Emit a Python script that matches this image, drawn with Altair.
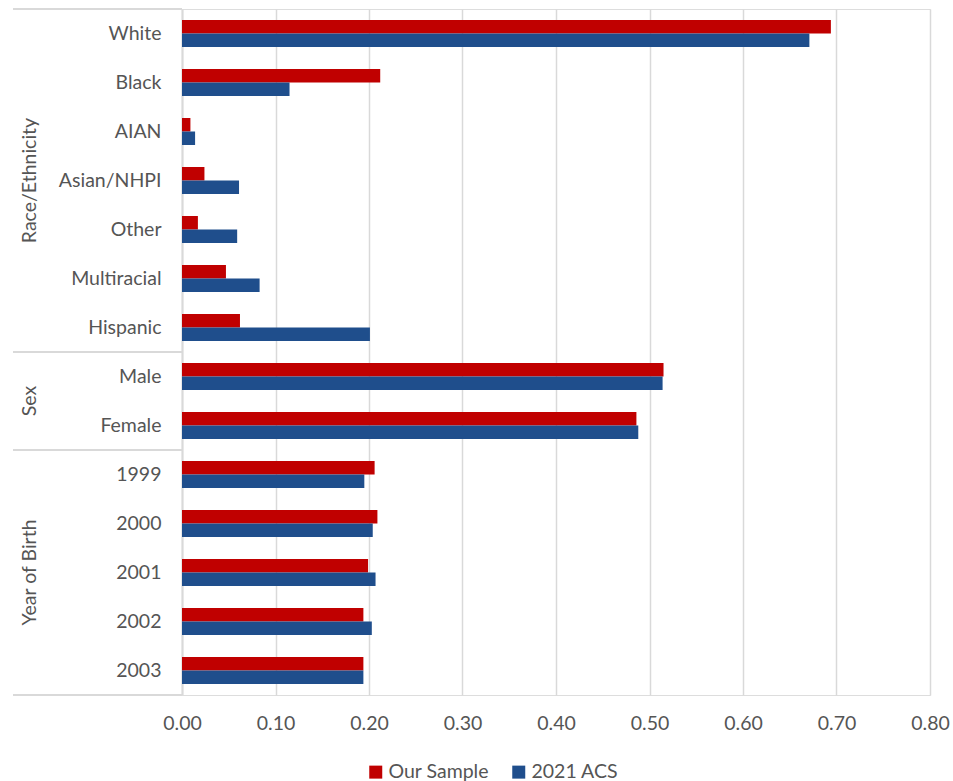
import altair as alt
import pandas as pd

categories = ["White", "Black", "AIAN", "Asian/NHPI", "Other", "Multiracial", "Hispanic",
              "Male", "Female", "1999", "2000", "2001", "2002", "2003"]
groups = ["Race/Ethnicity"] * 7 + ["Sex"] * 2 + ["Year of Birth"] * 5
our_sample = [0.694, 0.212, 0.009, 0.024, 0.017, 0.047, 0.062,
              0.515, 0.486, 0.206, 0.209, 0.199, 0.194, 0.194]
acs_2021 = [0.671, 0.115, 0.014, 0.061, 0.059, 0.083, 0.201,
            0.514, 0.488, 0.195, 0.204, 0.207, 0.203, 0.194]
series = ["Our Sample", "2021 ACS"]
colors = ["#C00000", "#1F4E8C"]
x_ticks = [0.0, 0.1, 0.2, 0.3, 0.4, 0.5, 0.6, 0.7, 0.8]

FONT = "Lato"
FS = 19.5
GRAY = "#555555"
LINE = "#D9D9D9"

rows = []
for c, g, a, b in zip(categories, groups, our_sample, acs_2021):
    rows.append({"category": c, "group": g, "series": series[0], "value": a})
    rows.append({"category": c, "group": g, "series": series[1], "value": b})
bars_df = pd.DataFrame(rows)

# group boundaries and group-label anchors
group_names = []
for g in groups:
    if g not in group_names:
        group_names.append(g)
bottoms = []
odd_anchor = []
even_anchor = []
for g in group_names:
    items = [c for c, gg in zip(categories, groups) if gg == g]
    bottoms.append({"category": items[-1]})
    n = len(items)
    if n % 2 == 1:
        odd_anchor.append({"category": items[n // 2], "group": g})
    else:
        even_anchor.append({"category": items[n // 2], "group": g})
top_df = pd.DataFrame([{"category": categories[0]}])
bottom_df = pd.DataFrame(bottoms)
odd_df = pd.DataFrame(odd_anchor)
even_df = pd.DataFrame(even_anchor)

y_axis = alt.Axis(title=None, ticks=False, domain=True, domainColor=LINE, domainWidth=2,
                  labelFont=FONT, labelFontSize=FS, labelColor=GRAY, labelPadding=21,
                  labelAlign="right", grid=False)
y_scale = alt.Scale(domain=categories, paddingInner=0, paddingOuter=0)


def ycat(bp=None):
    if bp is None:
        return alt.Y("category:N", sort=categories, scale=y_scale, axis=y_axis)
    return alt.Y("category:N", sort=categories, scale=y_scale, axis=y_axis, bandPosition=bp)


bars = alt.Chart(bars_df).mark_bar().encode(
    x=alt.X("value:Q", scale=alt.Scale(domain=[0, 0.8], nice=False),
            axis=alt.Axis(title=None, values=x_ticks, format=".2f", grid=True,
                          gridColor=LINE, gridWidth=1.5, domain=False, ticks=False,
                          labelFont=FONT, labelFontSize=FS, labelColor=GRAY,
                          labelPadding=19, labelFlush=False)),
    y=ycat(),
    yOffset=alt.YOffset("series:N", sort=series,
                        scale=alt.Scale(domain=series, paddingInner=0, paddingOuter=0.815)),
    color=alt.Color("series:N", sort=series,
                    scale=alt.Scale(domain=series, range=colors),
                    legend=alt.Legend(title=None, orient="none", legendX=184, legendY=753,
                                      direction="horizontal", symbolType="square",
                                      symbolSize=169, symbolStrokeWidth=0,
                                      labelFont=FONT, labelFontSize=FS, labelColor=GRAY,
                                      labelOffset=3, columnPadding=20)),
)

top_rule = alt.Chart(top_df).mark_rule(color=LINE, strokeWidth=2).encode(
    y=ycat(0), x=alt.value(-169), x2=alt.value(0)
)
bottom_rules = alt.Chart(bottom_df).mark_rule(color=LINE, strokeWidth=2).encode(
    y=ycat(1), x=alt.value(-169), x2=alt.value(0)
)
odd_labels = alt.Chart(odd_df).mark_text(
    angle=270, align="center", baseline="middle", font=FONT, fontSize=FS, color=GRAY
).encode(y=ycat(0.5), x=alt.value(-152), text="group:N")
even_labels = alt.Chart(even_df).mark_text(
    angle=270, align="center", baseline="middle", font=FONT, fontSize=FS, color=GRAY
).encode(y=ycat(0), x=alt.value(-152), text="group:N")

chart = alt.layer(bars, top_rule, bottom_rules, odd_labels, even_labels).properties(
    width=748, height=686,
    autosize=alt.AutoSizeParams(type="none"),
    padding={"left": 182, "top": 9, "right": 23, "bottom": 86},
).configure_view(stroke=None).configure(background="white")

chart.save("out.html", embed_options={"renderer": "svg", "actions": False})
